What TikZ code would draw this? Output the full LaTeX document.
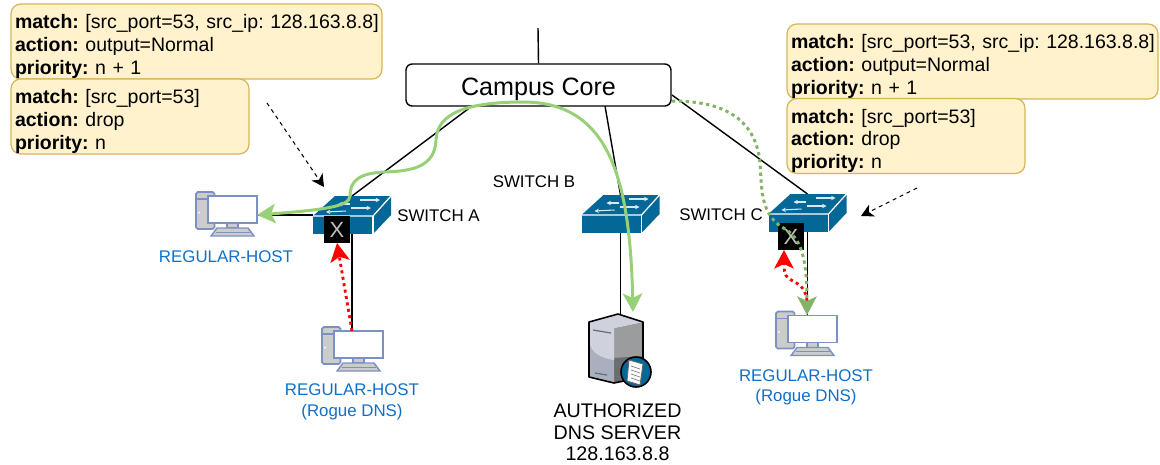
\documentclass[tikz,border=0pt]{standalone}
\usepackage{fontspec}
\setmainfont{Liberation Sans}
\usetikzlibrary{arrows.meta}
\definecolor{swblue}{HTML}{036897}
\definecolor{rulefill}{HTML}{FFF2CC}
\definecolor{ruleline}{HTML}{D6B656}
\definecolor{hostline}{HTML}{7B91C3}
\definecolor{hostblue}{HTML}{0F6FCB}
\definecolor{flowgreen}{HTML}{97D077}
\definecolor{dotgreen}{HTML}{82B366}
\definecolor{srvlight}{HTML}{CFD2DC}
\definecolor{srvmid}{HTML}{A9AFBE}
\definecolor{srvside}{HTML}{9A9C9E}
\definecolor{srvdark}{HTML}{6A6D72}
\frenchspacing
\begin{document}
\begin{tikzpicture}[x=0.02cm,y=-0.02cm,
rulebox/.style={draw=ruleline, fill=rulefill, line width=0.7pt, rounded corners=5.5pt, inner xsep=0.08cm, inner ysep=0pt, outer sep=0pt, text width=#1, minimum height=1.5cm, align=left, font=\fontsize{11.1}{13}\selectfont, execute at begin node=\rule{0pt}{13.5pt}},
switchbox/.style={minimum width=1.56cm, minimum height=0.76cm, inner sep=0pt, outer sep=0pt},
hostbox/.style={minimum width=0.98cm, minimum height=0.54cm, inner sep=0pt, outer sep=0pt},
serverbox/.style={minimum width=1.08cm, minimum height=1.38cm, inner sep=0pt, outer sep=0pt},
blockbox/.style={fill=black, text=white!75!black, minimum width=0.52cm, minimum height=0.54cm, inner sep=0pt, outer sep=0pt, font=\fontsize{12.5}{12.5}\selectfont},
label/.style={font=\fontsize{9.6}{11.6}\selectfont, align=center, inner sep=0pt},
hostlabel/.style={label, text=hostblue},
link/.style={line width=0.8pt},
pointer/.style={line width=0.6pt, dash pattern=on 2.2pt off 2.2pt, -{Stealth[length=7pt,width=7.5pt,inset=2pt]}},
flow/.style={flowgreen, line width=1.7pt, -{Stealth[length=10.5pt,width=11pt,inset=2.5pt]}},
dotflow/.style={dotgreen, line width=1.7pt, dash pattern=on 1.9pt off 2pt, -{Stealth[length=10.5pt,width=11pt,inset=2.5pt]}},
redflow/.style={red, line width=1.6pt, dash pattern=on 1.7pt off 2pt, -{Stealth[length=10.5pt,width=11pt,inset=2.5pt]}},
switchpic/.pic={
  \fill[swblue] (-39,1) rectangle (21,19);
  \fill[swblue] (-39,1) -- (-17,-19) -- (39,-19) -- (21,1) -- cycle;
  \fill[swblue] (21,1) -- (39,-19) -- (39,0) -- (21,19) -- cycle;
  \draw[white, line width=0.7pt] (-39,1) -- (21,1) -- (39,-19);
  \draw[white, line width=0.7pt] (21,1) -- (21,19);
  \draw[white!85!swblue, line width=0.6pt, -{Stealth[length=2.5pt,width=2.5pt]}] (-2,-11) to (-14,-11);
  \draw[white!85!swblue, line width=0.6pt, -{Stealth[length=2.5pt,width=2.5pt]}] (8,-15) to (28,-15);
  \draw[white!85!swblue, line width=0.6pt, -{Stealth[length=2.5pt,width=2.5pt]}] (-6,-4) to (-26,-3);
  \draw[white!85!swblue, line width=0.6pt, -{Stealth[length=2.5pt,width=2.5pt]}] (-1,-7) to (19,-7);
},
hostpic/.pic={
  \draw[hostline, fill=black!20, line width=1pt, rounded corners=1pt] (-36.5,-17.5) rectangle (-18,19.5);
  \draw[hostline, line width=0.6pt] (-36.5,-10.5) to (-24,-10.5);
  \fill[white] (-33.5,3) circle (1);
  \draw[hostline, fill=black!20, line width=0.8pt] (-5.5,13.5) rectangle (5.5,18.5);
  \draw[hostline, fill=black!20, line width=0.8pt] (-15.5,18.5) -- (15.5,18.5) -- (21.5,26.5) -- (-21.5,26.5) -- cycle;
  \draw[hostline, line width=0.5pt] (-17,22.5) to (17,22.5);
  \draw[hostline, fill=white, line width=1pt] (-24.5,-13.5) rectangle (24.5,13.5);
},
serverpic/.pic={
  \fill[srvside] (-2,-20) -- (27,-26) -- (27,29) -- (-2,35) -- cycle;
  \fill[srvdark] (-2,10) -- (27,8) -- (27,29) -- (-2,35) -- cycle;
  \fill[srvmid] (-27,-26) -- (-2,-20) -- (-2,35) -- (-27,29) -- cycle;
  \fill[srvlight] (-27,-26) -- (-2,-20) -- (-2,12) .. controls (-15,10) and (-26,5) .. (-27,-8) -- cycle;
  \fill[srvlight] (2,-34) -- (27,-26) -- (-2,-20) -- (-27,-26) -- cycle;
  \draw[black, line width=0.9pt, line join=round] (2,-34) -- (27,-26) -- (27,29) -- (-2,35) -- (-27,29) -- (-27,-26) -- cycle;
  \draw[srvdark, line width=0.7pt] (-23,-18) to (-5,-15);
  \draw[srvdark, line width=0.7pt] (-21,25) to (-9,27);
  \draw[black, fill=swblue, line width=0.9pt] (20,24) circle (15);
  \draw[black!60, fill=white, line width=0.5pt] (13,12) -- (27,16) -- (24,37) -- (11,33) -- cycle;
  \foreach \k in {0,1,2,3}
    \draw[black!50, line width=0.4pt] (15,18+4*\k) to (24,21+4*\k);
}]
\useasboundingbox (0,0) rectangle (1160,464);
% coordinates are the pixels of the reference
\node(core) at (538.5,85) [draw, fill=white, line width=0.8pt, rounded corners=3.5pt, minimum width=5.3cm, minimum height=0.84cm, inner sep=0pt, text height=11.5pt, text depth=0pt, font=\fontsize{14.3}{14.3}\selectfont]{Campus Core};
\node(swA) at (352,215) [switchbox]{};
\node(swB) at (620.5,214) [switchbox]{};
\node(swC) at (807.5,213) [switchbox]{};
\node(hostA) at (232.5,209.5) [hostbox]{};
\node(hostB) at (358.5,344.5) [hostbox]{};
\node(hostC) at (812.5,329) [hostbox]{};
\node(dns) at (616,348) [serverbox]{};
\coordinate(uplink) at (538,28);
\coordinate(coreA) at (472,106);
\coordinate(coreB) at (605,106);
\coordinate(coreC) at (672,95);
\coordinate(peak) at (523,102);
\coordinate(hostAin) at (257,215);
\coordinate(dnsin) at (633,312);
\coordinate(coreout) at (672,101);
\coordinate(hostCin) at (807,315);
\coordinate(hostBout) at (352,331);
\coordinate(hostCout) at (807,301);
\coordinate(blockCin) at (784,250);
\coordinate(ruleAout) at (267,103);
\coordinate(ruleCout) at (917,188);
\coordinate(swAtip) at (324,187);
\coordinate(swCtip) at (861,216);
\draw[link] (uplink) to (core.north);
\draw[link] (coreA) to (swA.north);
\draw[link] (coreB) to (swB.north);
\draw[link] (coreC) to (swC.north);
\draw[link] (swA.west |- hostAin) to (hostAin);
\draw[link] (swA.south) to (swA.south |- hostB.north);
\draw[link] (swB.south) to (swB.south |- dns.north);
\draw[link] (swC.south) to (swC.south |- hostC.north);
\pic at (swA) {switchpic};
\pic at (swB) {switchpic};
\pic at (swC) {switchpic};
\pic at (hostA) {hostpic};
\pic at (hostB) {hostpic};
\pic at (hostC) {hostpic};
\pic at (dns) {serverpic};
\node(blockA) at (337,229.5) [blockbox]{X};
\node(blockC) at (791,236.5) [blockbox]{X};
\node(ruleA) at (196.5,41.5) [rulebox=7.26cm]{\mbox{\textbf{match:} [src\_port=53, src\_ip: 128.163.8.8]}\\\textbf{action:} output=Normal\\\textbf{priority:} n + 1};
\node(ruleB) at (130,116.5) [rulebox=4.6cm]{\textbf{match:} [src\_port=53]\\\textbf{action:} drop\\\textbf{priority:} n};
\node(ruleC) at (972.5,61.5) [rulebox=7.26cm]{\mbox{\textbf{match:} [src\_port=53, src\_ip: 128.163.8.8]}\\\textbf{action:} output=Normal\\\textbf{priority:} n + 1};
\node(ruleD) at (906,136) [rulebox=4.6cm]{\textbf{match:} [src\_port=53]\\\textbf{action:} drop\\\textbf{priority:} n};
\node(labelA) at (438.5,216) [label]{SWITCH A};
\node(labelB) at (534,182) [label]{SWITCH B};
\node(labelC) at (721,215) [label]{SWITCH C};
\node(nameA) at (226,257) [hostlabel]{REGULAR-HOST};
\node(nameB) at (352,402) [hostlabel]{REGULAR-HOST\\(Rogue DNS)};
\node(nameC) at (806,387.5) [hostlabel]{REGULAR-HOST\\(Rogue DNS)};
\node(nameD) at (617.5,432.5) [label, font=\fontsize{11.2}{12.2}\selectfont]{AUTHORIZED\\DNS SERVER\\128.163.8.8};
\draw[flow] (peak) .. controls (470,102) and (437,112) .. (436,140) .. controls (435,168) and (410,171) .. (385,172) .. controls (360,173) and (350,180) .. (350,196) .. controls (350,207) and (320,210) .. (hostAin);
\draw[flow] (peak) .. controls (610,102) and (630,180) .. (dnsin);
\draw[redflow] (hostBout) to (blockA.south);
\draw[redflow] (hostCout) .. controls (806,285) and (795,283) .. (788,278) .. controls (784,275) and (784,268) .. (blockCin);
\draw[dotflow] (coreout) .. controls (710,101) and (755,110) .. (760,163) .. controls (762,190) and (760,215) .. (785,229) .. controls (800,238) and (807,255) .. (hostCin);
\draw[pointer] (ruleAout) to (swAtip);
\draw[pointer] (ruleCout) to (swCtip);
\end{tikzpicture}
\end{document}
